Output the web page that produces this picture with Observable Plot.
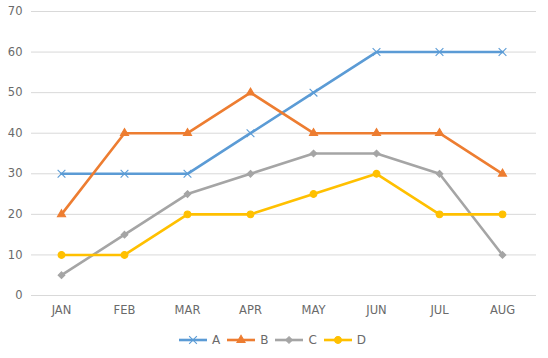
<!DOCTYPE html>
<html><head><meta charset="utf-8">
<script src="https://cdn.jsdelivr.net/npm/d3@7"></script>
<script src="https://cdn.jsdelivr.net/npm/@observablehq/plot@0.6"></script>
<style>
body{margin:0;background:#fff;font-family:"DejaVu Sans",sans-serif;}
#legend{display:flex;justify-content:center;align-items:center;height:36px;font-size:12px;color:#6a6a6a;margin-left:0px;}
#legend .it{display:flex;align-items:center;margin:0 1px;}
#legend svg{margin-right:4px;}
</style></head><body>
<div id="chart"></div>
<div id="legend"></div>
<script>
const months = ["JAN","FEB","MAR","APR","MAY","JUN","JUL","AUG"];
const seriesNames = ["A","B","C","D"];
const A = [30,30,30,40,50,60,60,60];
const B = [20,40,40,50,40,40,40,30];
const C = [5,15,25,30,35,35,30,10];
const D = [10,10,20,20,25,30,20,20];
const colors = ["#5B9BD5","#ED7D31","#A5A5A5","#FFC000"];
const symbols = ["times","triangle","diamond2","circle"];
const radii = [3.6,3.0,3.0,3.4];
const yTicks = [0,10,20,30,40,50,60,70];

const vals = {A,B,C,D};
const data = [];
seriesNames.forEach(s => months.forEach((m,i) => data.push({series:s, month:m, value:vals[s][i]})));

const chart = Plot.plot({
  width:548, height:322,
  marginLeft:29, marginRight:14, marginTop:11, marginBottom:27,
  style:{fontFamily:"DejaVu Sans, sans-serif", fontSize:"11.5px", color:"#6a6a6a"},
  x:{type:"point", domain:months, padding:0.5, label:null},
  y:{domain:[0,70], label:null},
  color:{domain:seriesNames, range:colors},
  symbol:{domain:seriesNames, range:symbols},
  marks:[
    Plot.gridY(yTicks,{stroke:"#d9d9d9", strokeOpacity:1, strokeWidth:1, insetLeft:2, insetRight:-2}),
    Plot.axisY(yTicks,{tickSize:0, tickPadding:7, label:null}),
    Plot.axisX({tickSize:0, tickPadding:10, label:null}),
    Plot.line(data,{x:"month", y:"value", z:"series", stroke:"series", strokeWidth:2.6}),
    ...seriesNames.map((s,i)=>Plot.dot(data.filter(d=>d.series===s),{x:"month", y:"value", symbol:"series", stroke:"series", fill:"series", r:radii[i], strokeWidth:1.1}))
  ]
});
document.getElementById("chart").appendChild(chart);

const symMap = {times:d3.symbolTimes,triangle:d3.symbolTriangle,diamond2:d3.symbolDiamond2,circle:d3.symbolCircle};
const leg = d3.select("#legend");
seriesNames.forEach((s,i)=>{
  const it = leg.append("div").attr("class","it");
  const svg = it.append("svg").attr("width",30).attr("height",12);
  svg.append("line").attr("x1",1).attr("x2",29).attr("y1",6).attr("y2",6).attr("stroke",colors[i]).attr("stroke-width",2.6);
  svg.append("path").attr("transform","translate(15,6)").attr("d",d3.symbol(symMap[symbols[i]], Math.PI*radii[i]*radii[i])())
    .attr("fill",colors[i]).attr("stroke",colors[i]).attr("stroke-width",1.1);
  it.append("span").text(s).style("margin-right","4px");
});
</script>
</body></html>
